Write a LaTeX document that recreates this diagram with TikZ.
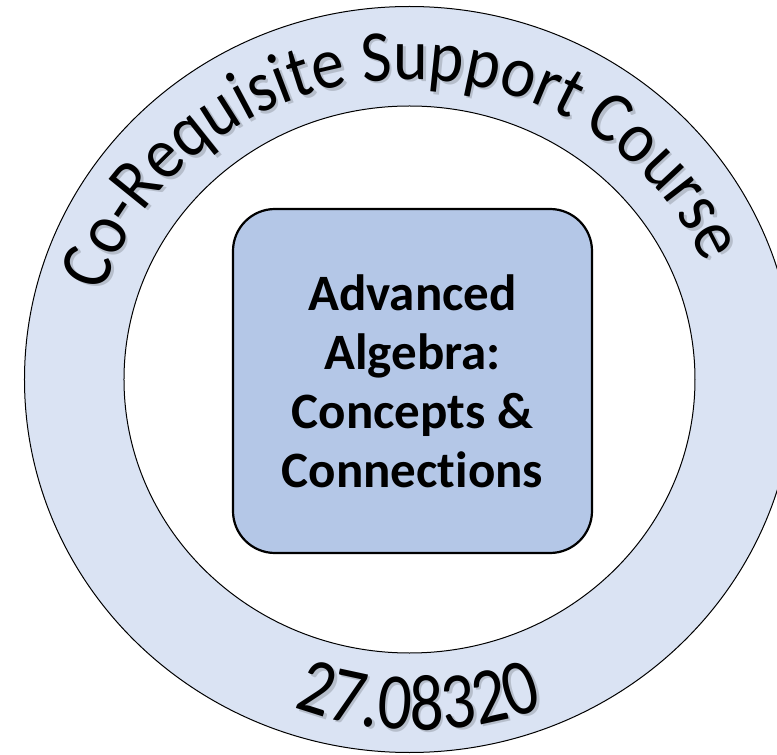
\documentclass[tikz,border=0pt]{standalone}
\usepackage{fontspec}
\setmainfont[Ligatures=NoCommon]{Carlito}
\newfontfamily\arcfont[FakeStretch=0.9]{Carlito}
\newfontfamily\numfont[FakeStretch=0.84]{Carlito}
\usetikzlibrary{decorations.text, positioning}
\definecolor{ringblue}{RGB}{218,227,243}
\definecolor{boxblue}{RGB}{180,199,231}

\begin{document}
\begin{tikzpicture}[x=1pt,y=1pt,
        ringline/.style={draw=black, line width=1pt},
        coursebox/.style={rectangle, rounded corners=42pt, draw=black,
            line width=2.2pt, fill=boxblue, minimum width=359pt,
            minimum height=344pt, align=center,
            font=\bfseries\fontsize{51}{59}\selectfont},
        arctext/.style={decorate, decoration={text along path,
            text align=center, text={#1}}}
    ]
        \useasboundingbox (-409.5,-375.5) rectangle (367.5,379.5);
        \clip (-409.5,-375.5) rectangle (367.5,379.5);

        % Ring
        \fill[ringblue, even odd rule]
            (0,0) ellipse [x radius=385pt, y radius=373pt]
            (0,0) ellipse [x radius=285.5pt, y radius=273.5pt];
        \draw[ringline] (0,0) ellipse [x radius=385pt, y radius=373pt];
        \draw[ringline] (0,0) ellipse [x radius=285.5pt, y radius=273.5pt];

        % Course box
        \node[coursebox] (course) at (3,-1.5)
            {Advanced\\Algebra:\\Concepts \&\\Connections};

        % Shadows of the ring labels
        \begin{scope}[opacity=0.16, xshift=2.5pt, yshift=-2.5pt]
            \path[arctext={|\arcfont\fontsize{73}{73}\selectfont\color{black}|Co-Requisite Support Course}]
                ({320*cos(175)},{300*sin(175)})
                arc[start angle=175, end angle=11, x radius=320pt, y radius=300pt];
            \path[arctext={|\numfont\fontsize{80}{80}\selectfont\color{black}|27.08320}]
                ({9.5+360*cos(245)},{9.5+360*sin(245)})
                arc[start angle=245, end angle=295, radius=360pt];
        \end{scope}

        % Ring labels
        \path[arctext={|\arcfont\fontsize{73}{73}\selectfont|Co-Requisite Support Course}]
            ({320*cos(175)},{300*sin(175)})
            arc[start angle=175, end angle=11, x radius=320pt, y radius=300pt];
        \path[arctext={|\numfont\fontsize{80}{80}\selectfont|27.08320}]
            ({9.5+360*cos(245)},{9.5+360*sin(245)})
            arc[start angle=245, end angle=295, radius=360pt];

\end{tikzpicture}
\end{document}
